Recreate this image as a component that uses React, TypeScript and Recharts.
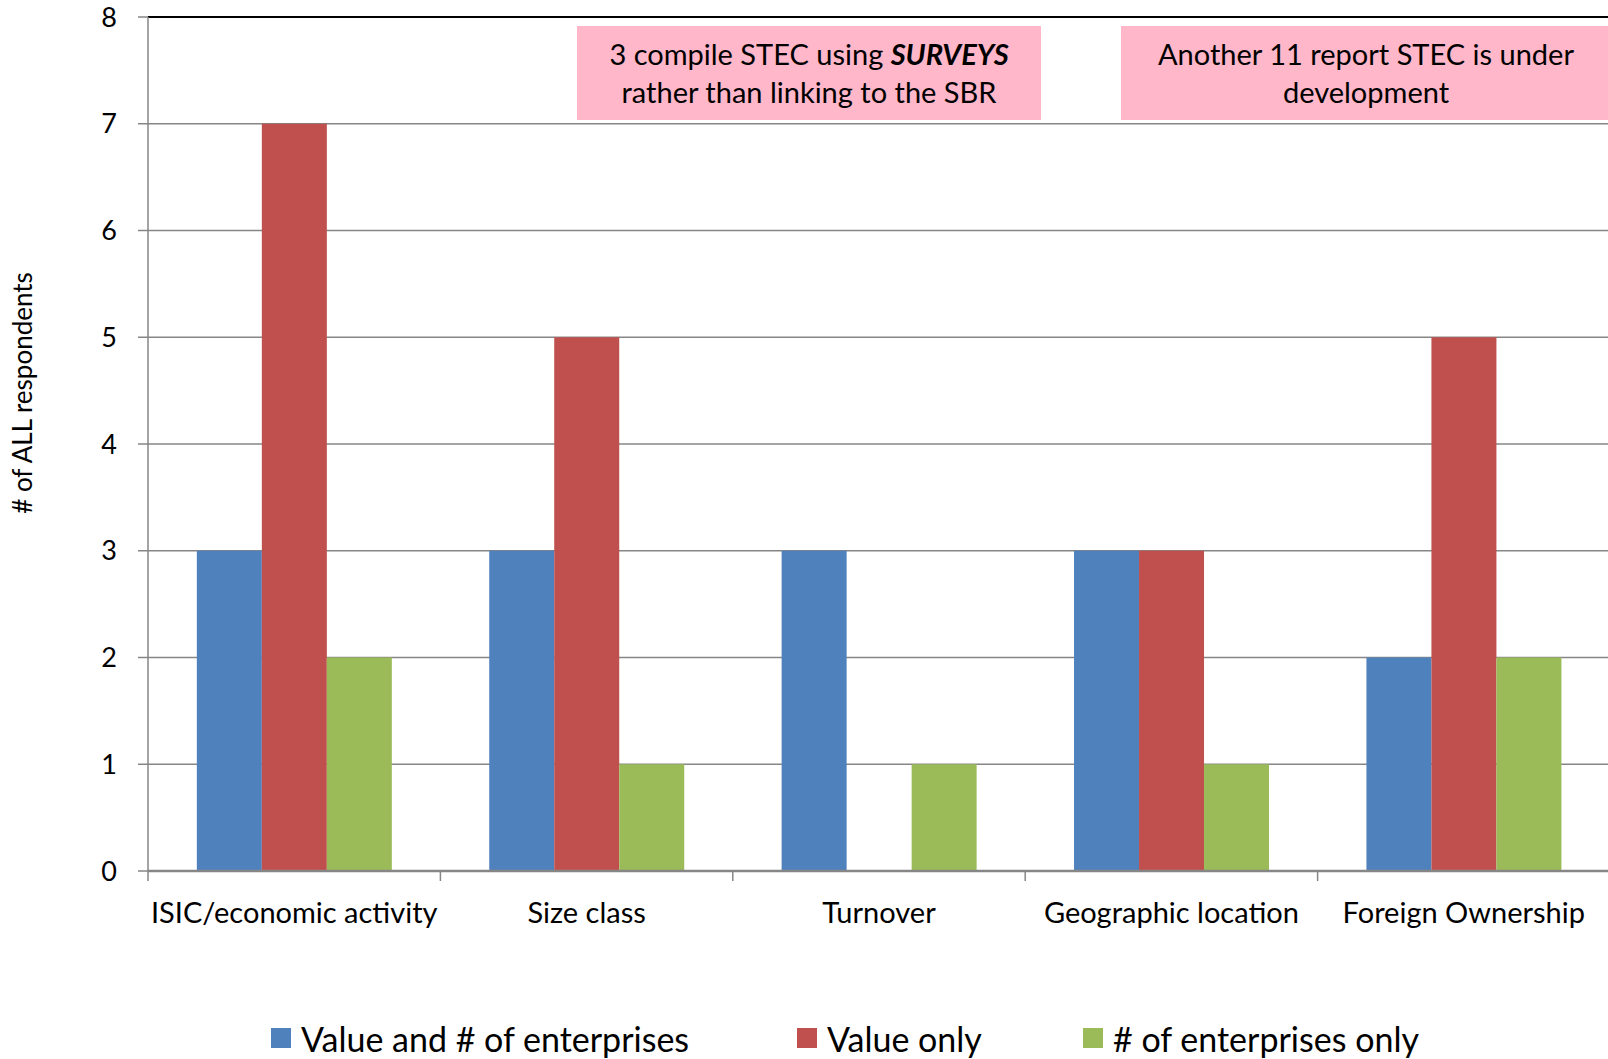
import { BarChart, Bar, XAxis, YAxis, CartesianGrid, ReferenceLine } from 'recharts';

const categories = ['ISIC/economic activity', 'Size class', 'Turnover', 'Geographic location', 'Foreign Ownership'];
const valueAndCount = [3, 3, 3, 3, 2];
const valueOnly = [7, 5, 0, 3, 5];
const countOnly = [2, 1, 1, 1, 2];
const yTicks = [0, 1, 2, 3, 4, 5, 6, 7, 8];

const seriesNames = ['Value and # of enterprises', 'Value only', '# of enterprises only'];
const colors = ['#4F81BD', '#C0504D', '#9BBB59'];

const data = categories.map((name, i) => ({
  name,
  a: valueAndCount[i],
  b: valueOnly[i],
  c: countOnly[i],
}));

const FONT = 'Lato, "Open Sans", sans-serif';

function CategoryTick(props: any) {
  const { x, y, payload } = props;
  const half = payload?.offset ?? 146;
  return (
    <g>
      <line x1={x - half} y1={y - 10} x2={x - half} y2={y} stroke="#868686" strokeWidth={1.5} />
      <text x={x} y={y + 42} textAnchor="middle" fontSize={29} fill="#000" fontFamily={FONT}>
        {payload.value}
      </text>
    </g>
  );
}

function YTitle() {
  return (
    <text
      x={22}
      y={393}
      transform="rotate(-90, 22, 393)"
      textAnchor="middle"
      dominantBaseline="central"
      fontSize={26}
      fill="#000"
      fontFamily={FONT}
    >
      # of ALL respondents
    </text>
  );
}

const boxStyle: React.CSSProperties = {
  position: 'absolute',
  top: 26,
  height: 94,
  background: '#FFB7C9',
  fontFamily: FONT,
  fontSize: 29,
  lineHeight: '38px',
  textAlign: 'center',
  display: 'flex',
  alignItems: 'center',
  justifyContent: 'center',
  color: '#000',
};

export default function App() {
  return (
    <div style={{ position: 'absolute', left: 0, top: 0, width: 1608, height: 1059, background: '#fff', overflow: 'hidden' }}>
      <BarChart
        width={1608}
        height={1059}
        data={data}
        margin={{ top: 17, right: -2, bottom: 0, left: 0 }}
        barCategoryGap="16.7%"
        barGap={0}
      >
        <CartesianGrid vertical={false} stroke="#868686" strokeWidth={1.5} />
        <XAxis
          dataKey="name"
          height={188}
          tickLine={false}
          tickSize={10}
          tickMargin={0}
          interval={0}
          stroke="#868686"
          strokeWidth={2.5}
          tick={<CategoryTick />}
        />
        <YAxis
          width={148}
          domain={[0, 8]}
          ticks={yTicks}
          interval={0}
          tickSize={10}
          tickMargin={21}
          stroke="#868686"
          strokeWidth={1.5}
          tick={{ fontSize: 27, fill: '#000', fontFamily: FONT }}
          label={{ content: () => <YTitle /> }}
        />
        <ReferenceLine y={8} stroke="#000" strokeWidth={2} />
        <Bar dataKey="a" name={seriesNames[0]} fill={colors[0]} isAnimationActive={false} />
        <Bar dataKey="b" name={seriesNames[1]} fill={colors[1]} isAnimationActive={false} />
        <Bar dataKey="c" name={seriesNames[2]} fill={colors[2]} isAnimationActive={false} />
      </BarChart>

      <div style={{ ...boxStyle, left: 577, width: 464 }}>
        <div>
          3 compile STEC using <b><i>SURVEYS</i></b>
          <br />
          rather than linking to the SBR
        </div>
      </div>
      <div style={{ ...boxStyle, left: 1121, width: 490 }}>
        <div>
          Another 11 report STEC is under
          <br />
          development
        </div>
      </div>

      {seriesNames.map((name, i) => (
        <div
          key={name}
          style={{
            position: 'absolute',
            left: [271, 797, 1083][i],
            top: 1018,
            height: 40,
            display: 'flex',
            alignItems: 'center',
            fontFamily: FONT,
            fontSize: 34,
            color: '#000',
            whiteSpace: 'nowrap',
          }}
        >
          <span style={{ width: 20, height: 20, background: colors[i], marginRight: 10, display: 'inline-block' }} />
          {name}
        </div>
      ))}
    </div>
  );
}
